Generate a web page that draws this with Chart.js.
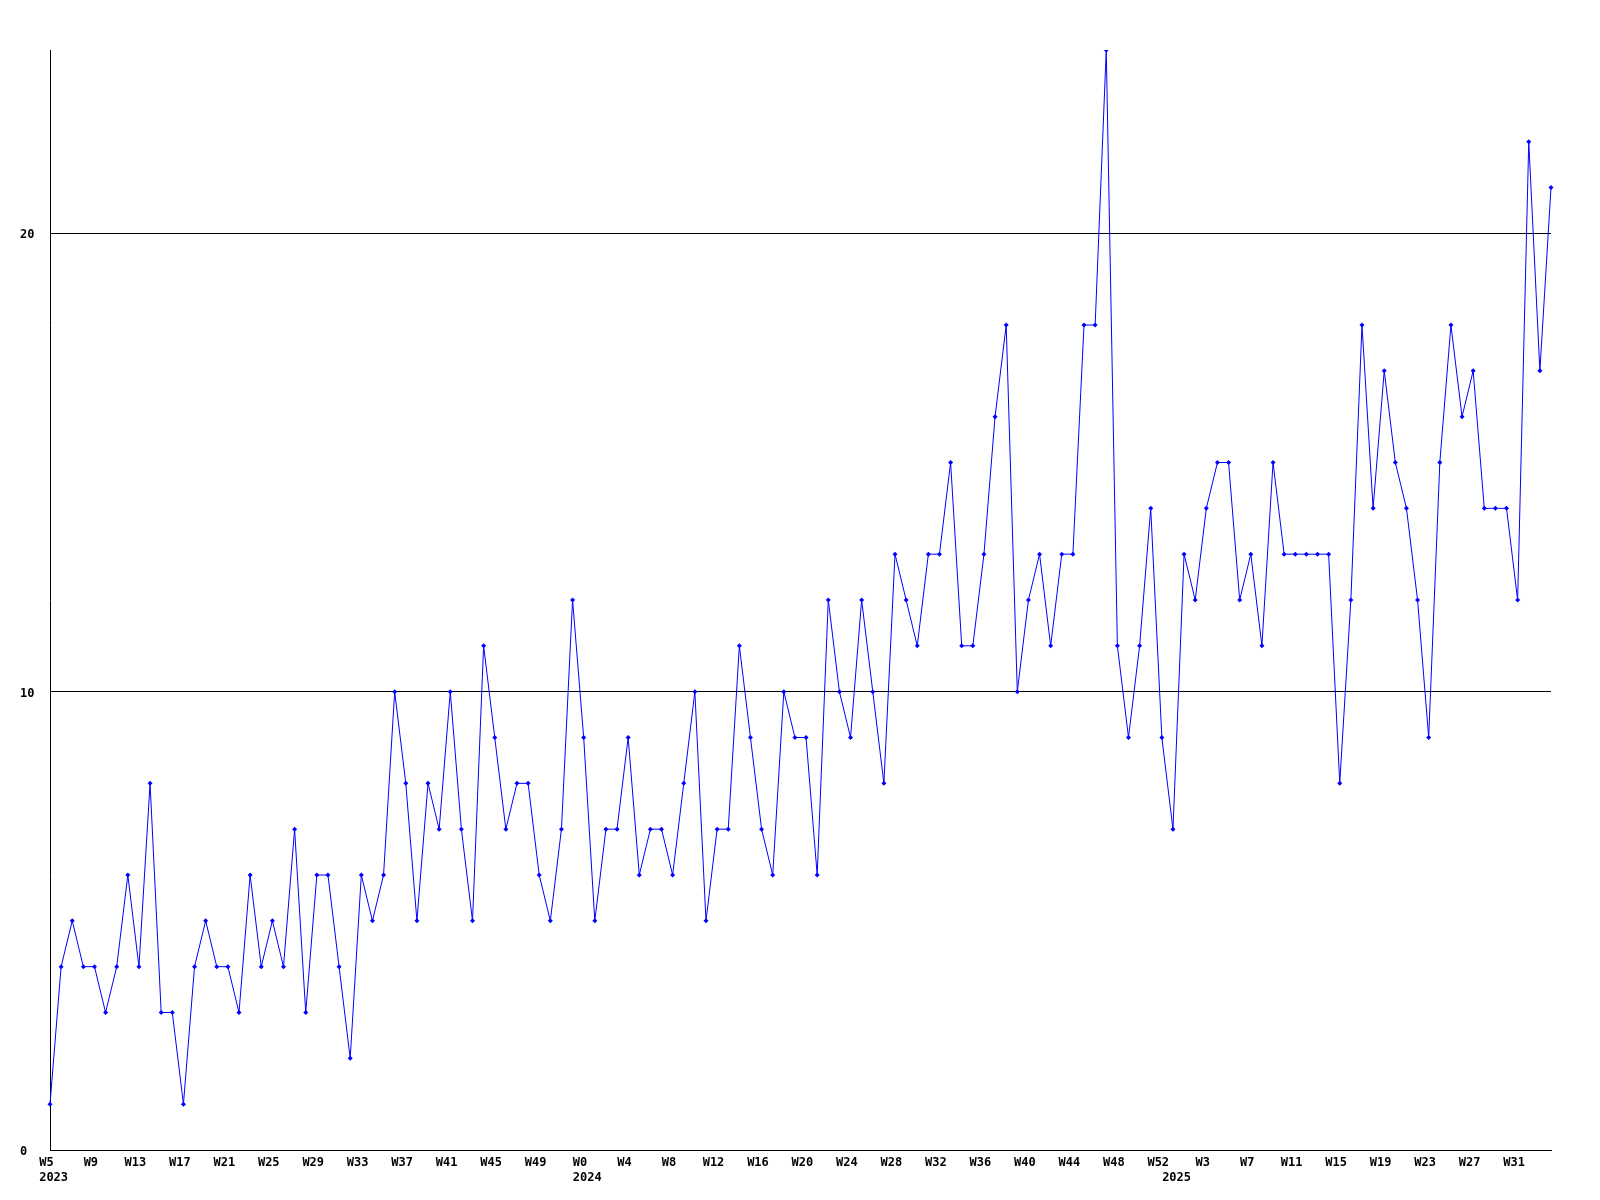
<!DOCTYPE html>
<html>
<head>
<meta charset="utf-8">
<title>Weekly count</title>
<script src="https://cdn.jsdelivr.net/npm/chart.js@4.4.0/dist/chart.umd.min.js"></script>
<style>
    body { margin: 0; background: #ffffff; }
    #chart-box { width: 1600px; height: 1200px; }
</style>
</head>
<body>
<div id="chart-box"><canvas id="weekly-chart" width="1600" height="1200"></canvas></div>
<script>
// weeks per year (%U style week numbers, as on the axis)
const weeks2023 = [5, 6, 7, 8, 9, 10, 11, 12, 13, 14, 15, 16, 17, 18, 19, 20, 21, 22, 23, 24,
    25, 26, 27, 28, 29, 30, 31, 32, 33, 34, 35, 36, 37, 38, 39, 40, 41, 42, 43, 44,
    45, 46, 47, 48, 49, 50, 51, 52];
const weeks2024 = [0, 1, 2, 3, 4, 5, 6, 7, 8, 9, 10, 11, 12, 13, 14, 15, 16, 17, 18, 19,
    20, 21, 22, 23, 24, 25, 26, 27, 28, 29, 30, 31, 32, 33, 34, 35, 36, 37, 38, 39,
    40, 41, 42, 43, 44, 45, 46, 47, 48, 49, 50, 51, 52];
const weeks2025 = [0, 1, 2, 3, 4, 5, 6, 7, 8, 9, 10, 11, 12, 13, 14, 15, 16, 17, 18, 19,
    20, 21, 22, 23, 24, 25, 26, 27, 28, 29, 30, 31, 32, 33, 34];

// values read per week
const counts2023 = [1, 4, 5, 4, 4, 3, 4, 6, 4, 8, 3, 3, 1, 4, 5, 4, 4, 3, 6, 4,
    5, 4, 7, 3, 6, 6, 4, 2, 6, 5, 6, 10, 8, 5, 8, 7, 10, 7, 5, 11,
    9, 7, 8, 8, 6, 5, 7, 12];
const counts2024 = [9, 5, 7, 7, 9, 6, 7, 7, 6, 8, 10, 5, 7, 7, 11, 9, 7, 6, 10, 9,
    9, 6, 12, 10, 9, 12, 10, 8, 13, 12, 11, 13, 13, 15, 11, 11, 13, 16, 18, 10,
    12, 13, 11, 13, 13, 18, 18, 24, 11, 9, 11, 14, 9];
const counts2025 = [7, 13, 12, 14, 15, 15, 12, 13, 11, 15, 13, 13, 13, 13, 13, 8, 12, 18, 14, 17,
    15, 14, 12, 9, 15, 18, 16, 17, 14, 14, 14, 12, 22, 17, 21];

const yTicks = [0, 10, 20];
const yMax = 24;

function buildCategories() {
    const cats = [];
    weeks2023.forEach(w => cats.push({ year: 2023, week: w }));
    weeks2024.forEach(w => cats.push({ year: 2024, week: w }));
    weeks2025.forEach(w => cats.push({ year: 2025, week: w }));
    return cats;
}

const categories = buildCategories();
const values = counts2023.concat(counts2024, counts2025);

// label every 4th week, year goes under the first week of each year
// (the spaces nudge week text a bit left and year text a bit right, like the original)
function tickLabel(index) {
    const cat = categories[index];
    const prev = categories[index - 1];
    const firstOfYear = !prev || prev.year !== cat.year;
    const week = index % 4 === 0 ? 'W' + cat.week + ' ' : '';
    if (firstOfYear) {
        return [week, ' ' + cat.year];
    }
    return week;
}

const ctx = document.getElementById('weekly-chart').getContext('2d');
const tickFont = { family: '"DejaVu Sans Mono", "Liberation Mono", monospace', size: 12, weight: 'bold', lineHeight: 1.25 };

new Chart(ctx, {
    type: 'line',
    data: {
        labels: categories.map(c => c.year + '-W' + c.week),
        datasets: [{
            data: values,
            borderColor: '#0000ff',
            backgroundColor: '#0000ff',
            borderWidth: 1,
            tension: 0,
            fill: false,
            pointStyle: 'rectRot',
            pointRadius: 2.5,
            pointBorderWidth: 0,
            pointBackgroundColor: '#0000ff'
        }]
    },
    options: {
        responsive: false,
        animation: false,
        layout: {
            padding: { top: 50, left: 20, right: 49, bottom: 0 }
        },
        plugins: {
            legend: { display: false },
            tooltip: { enabled: false }
        },
        scales: {
            x: {
                offset: false,
                grid: { display: false, drawTicks: false },
                border: { display: true, color: '#000000', width: 1 },
                ticks: {
                    autoSkip: false,
                    maxRotation: 0,
                    minRotation: 0,
                    padding: 5,
                    color: '#000000',
                    font: tickFont,
                    callback: function(value, index) {
                        return tickLabel(index);
                    }
                },
                afterFit: function(scale) {
                    scale.height = 50;
                }
            },
            y: {
                min: 0,
                max: yMax,
                grid: { color: '#000000', lineWidth: 1, drawTicks: false },
                border: { display: true, color: '#000000', width: 1 },
                afterBuildTicks: function(scale) {
                    scale.ticks = yTicks.map(v => ({ value: v }));
                },
                ticks: {
                    crossAlign: 'far',
                    padding: 0,
                    labelOffset: 2,
                    color: '#000000',
                    font: tickFont
                },
                afterFit: function(scale) {
                    scale.width = 30;
                }
            }
        }
    }
});
</script>
</body>
</html>
